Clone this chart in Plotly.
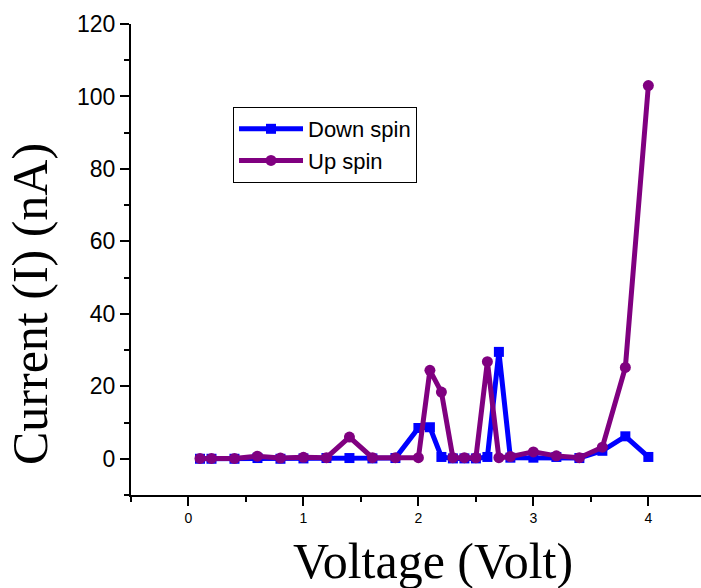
import plotly.graph_objects as go

voltage = [0.1, 0.2, 0.4, 0.6, 0.8, 1.0, 1.2, 1.4, 1.6, 1.8, 2.0, 2.1, 2.2, 2.3, 2.4,
           2.5, 2.6, 2.7, 2.8, 3.0, 3.2, 3.4, 3.6, 3.8, 4.0]
down_spin = [0.0, 0.0, 0.0, 0.2, 0.0, 0.1, 0.2, 0.2, 0.1, 0.2, 8.5, 8.7, 0.5, 0.1, 0.1,
             0.1, 0.5, 29.5, 0.3, 0.3, 0.5, 0.2, 2.2, 6.2, 0.5]
up_spin = [0.1, 0.1, 0.1, 0.7, 0.2, 0.4, 0.3, 6.0, 0.3, 0.3, 0.3, 24.4, 18.4, 0.3, 0.3,
           0.3, 26.8, 0.3, 0.6, 1.9, 0.8, 0.3, 3.2, 25.2, 103.0]

x_ticks = [0, 1, 2, 3, 4]
y_ticks = [0, 20, 40, 60, 80, 100, 120]

W, H = 701, 588
L, R, T, B = 131, 0, 24, 93
pw, ph = W - L - R, H - T - B


def px_x(px):
    return (px - L) / pw


def px_y(py):
    return (H - B - py) / ph


fig = go.Figure()
fig.add_trace(go.Scatter(
    x=voltage, y=down_spin, name="Down spin", mode="lines+markers",
    line=dict(color="#0000FF", width=5),
    marker=dict(symbol="square", size=10, color="#0000FF"),
))
fig.add_trace(go.Scatter(
    x=voltage, y=up_spin, name="Up spin", mode="lines+markers",
    line=dict(color="#800080", width=5),
    marker=dict(symbol="circle", size=11, color="#800080"),
))

fig.update_layout(
    width=W, height=H,
    margin=dict(l=L, r=R, t=T, b=B),
    plot_bgcolor="white", paper_bgcolor="white",
    showlegend=True,
    legend=dict(
        x=px_x(233), y=px_y(107), xanchor="left", yanchor="top",
        bordercolor="black", borderwidth=1, bgcolor="white",
        font=dict(family="Liberation Sans, Arial", size=22, color="black"),
        tracegroupgap=0, itemwidth=64,
    ),
    xaxis=dict(
        range=[-0.5, 4.458], tickvals=x_ticks, ticktext=[str(v) for v in x_ticks],
        showgrid=False, zeroline=False, showline=True, linecolor="black", linewidth=2,
        ticks="outside", ticklen=9, tickwidth=1.5, tickcolor="black",
        minor=dict(dtick=0.5, tick0=0, ticks="outside", ticklen=5, tickwidth=1.5, tickcolor="black"),
        tickfont=dict(family="Liberation Sans, Arial", size=14, color="black"),
    ),
    yaxis=dict(
        range=[-10, 120], tickvals=y_ticks, ticktext=[str(v) for v in y_ticks],
        showgrid=False, zeroline=False, showline=True, linecolor="black", linewidth=2,
        ticks="outside", ticklen=9, tickwidth=1.5, tickcolor="black",
        minor=dict(dtick=10, tick0=0, ticks="outside", ticklen=5, tickwidth=1.5, tickcolor="black"),
        tickfont=dict(family="Liberation Sans, Arial", size=23, color="black"),
    ),
    annotations=[
        dict(text="Voltage (Volt)", xref="paper", yref="paper",
             x=px_x(433), y=px_y(561), xanchor="center", yanchor="middle",
             showarrow=False,
             font=dict(family="Liberation Serif, Times New Roman", size=50, color="black")),
        dict(text="Current (I) (nA)", xref="paper", yref="paper",
             x=px_x(30), y=px_y(304), xanchor="center", yanchor="middle",
             textangle=-90, showarrow=False,
             font=dict(family="Liberation Serif, Times New Roman", size=50, color="black")),
    ],
)

fig.write_html(
    "out.html",
    config={"displayModeBar": False},
    post_script=(
        "document.body.style.margin='0';"
        "document.documentElement.style.overflow='hidden';"
        "document.body.style.overflow='hidden';"
    ),
)
